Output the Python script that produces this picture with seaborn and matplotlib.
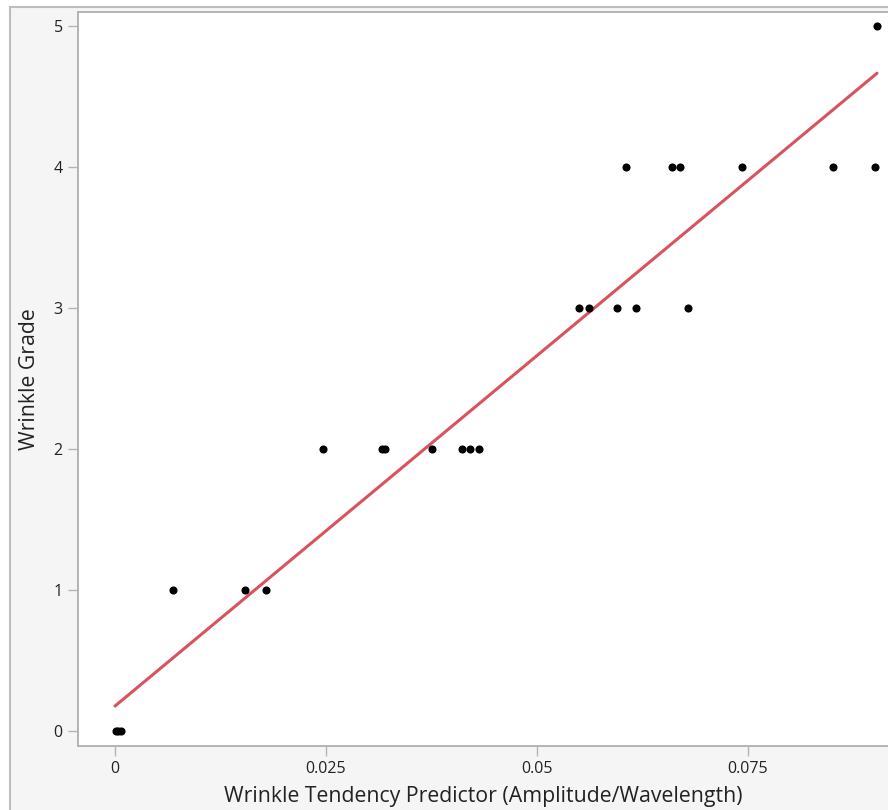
import matplotlib
matplotlib.use("Agg")
import matplotlib.pyplot as plt
import seaborn as sns
import numpy as np
import pandas as pd
from matplotlib.patches import Rectangle

# wrinkle tendency predictor (amplitude/wavelength) vs observed grade
predictor = [0.0001, 0.0004, 0.0007,
             0.0069, 0.0154, 0.0179,
             0.0247, 0.0317, 0.0320, 0.0376, 0.0411, 0.0421, 0.0431,
             0.0550, 0.0562, 0.0595, 0.0617, 0.0679,
             0.0606, 0.0660, 0.0670, 0.0743, 0.0851, 0.0901,
             0.0903]
grade = [0, 0, 0,
         1, 1, 1,
         2, 2, 2, 2, 2, 2, 2,
         3, 3, 3, 3, 3,
         4, 4, 4, 4, 4, 4,
         5]
# fitted line as reported (intercept, slope)
fit_intercept = 0.177
fit_slope = 49.7
x_ticks = [0, 0.025, 0.05, 0.075]
x_tick_labels = ["0", "0.025", "0.05", "0.075"]
y_ticks = [0, 1, 2, 3, 4, 5]

df = pd.DataFrame({"predictor": predictor, "grade": grade})
fit_x = np.array([0.0, max(predictor)])
fit_df = pd.DataFrame({"predictor": fit_x, "grade": fit_intercept + fit_slope * fit_x})

sns.set_style("white")
plt.rcParams["font.family"] = ["Open Sans", "DejaVu Sans"]

fig = plt.figure(figsize=(8.88, 8.10), dpi=100)
fig.patch.set_facecolor("white")
# outer report frame
fig.patches.append(Rectangle((10 / 888, -0.01), 1.0, (810 - 7) / 810 + 0.01,
                             transform=fig.transFigure, facecolor="#f5f5f5",
                             edgecolor="#bdbdbd", linewidth=1.5, zorder=-5))

ax = fig.add_axes([78 / 888, 64 / 810, 1 - 78 / 888, (746 - 12) / 810])
ax.set_zorder(1)
ax.set_facecolor("white")

sns.lineplot(data=fit_df, x="predictor", y="grade", ax=ax, color="#d9535e",
             linewidth=2.2, zorder=2)
sns.scatterplot(data=df, x="predictor", y="grade", ax=ax, color="black",
                s=34, linewidth=0, alpha=1, zorder=3)

ax.set_xlim(-0.00438, 0.0916)
ax.set_ylim(-0.106, 5.099)
ax.set_xticks(x_ticks)
ax.set_xticklabels(x_tick_labels)
ax.set_yticks(y_ticks)

for side in ["left", "bottom", "top"]:
    ax.spines[side].set_color("#b4b4b4")
    ax.spines[side].set_linewidth(1.4)
ax.spines["right"].set_visible(False)

ax.tick_params(axis="both", direction="out", length=7, width=1, color="#b4b4b4",
               labelsize=11.5, labelcolor="#222222", pad=4,
               left=True, bottom=True)

ax.set_xlabel("Wrinkle Tendency Predictor (Amplitude/Wavelength)", fontsize=15.3,
              color="#222222", labelpad=6)
ax.set_ylabel("Wrinkle Grade", fontsize=15.3, color="#222222", labelpad=10)

fig.savefig("out.png", dpi=100, facecolor=fig.get_facecolor())
